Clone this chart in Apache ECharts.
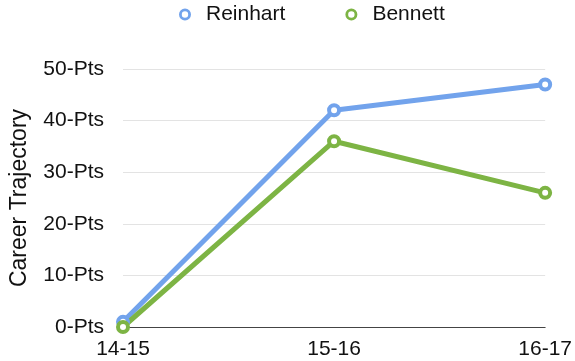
<!DOCTYPE html>
<html><head><meta charset="utf-8">
<script src="https://cdn.jsdelivr.net/npm/echarts@6/dist/echarts.min.js"></script>
<style>html,body{margin:0;padding:0;background:#fff}#c{width:575px;height:361px}</style>
</head><body><div id="c"></div>
<script>
const categories = ['14-15', '15-16', '16-17'];
const reinhart = [1, 42, 47];
const bennett = [0, 36, 26];
const yTicks = [0, 10, 20, 30, 40, 50];

const chart = echarts.init(document.getElementById('c'));
const font = 'Liberation Sans, Arial, Helvetica, sans-serif';
const ring = 'path://M0,-6A6,6 0 1,1 0,6A6,6 0 1,1 0,-6Z M0,-3.2A3.2,3.2 0 1,0 0,3.2A3.2,3.2 0 1,0 0,-3.2Z';
chart.setOption({
  animation: false,
  legend: {
    top: -1, left: 174, itemGap: 60, itemWidth: 32, itemHeight: 12,
    textStyle: { fontSize: 21, fontFamily: font, color: '#111' },
    data: [
      { name: 'Reinhart', icon: ring, itemStyle: { color: '#72a3ec', borderWidth: 0 } },
      { name: 'Bennett', icon: ring, itemStyle: { color: '#7db444', borderWidth: 0 } }
    ]
  },
  grid: { left: 122, right: 28, top: 69, bottom: 34, containLabel: false },
  xAxis: {
    type: 'category', data: categories, boundaryGap: false,
    axisLine: { lineStyle: { color: '#444', width: 1 } },
    axisTick: { show: false },
    axisLabel: { fontSize: 21, fontFamily: font, color: '#111', margin: 12 }
  },
  yAxis: {
    type: 'value', min: 0, max: 50, interval: 10,
    name: 'Career Trajectory', nameLocation: 'middle', nameGap: 92,
    nameTextStyle: { fontSize: 23, fontFamily: font, color: '#111' },
    axisLabel: { fontSize: 21, fontFamily: font, color: '#111', margin: 19,
      formatter: v => yTicks.includes(v) ? v + '-Pts' : '' },
    splitLine: { lineStyle: { color: '#e3e3e3' } },
    axisLine: { show: false }, axisTick: { show: false }
  },
  series: [
    { name: 'Reinhart', type: 'line', data: reinhart, symbol: 'circle', symbolSize: 10,
      lineStyle: { width: 5, color: '#72a3ec' },
      itemStyle: { color: '#ffffff', borderColor: '#72a3ec', borderWidth: 4 } },
    { name: 'Bennett', type: 'line', data: bennett, symbol: 'circle', symbolSize: 10,
      lineStyle: { width: 5, color: '#7db444' },
      itemStyle: { color: '#ffffff', borderColor: '#7db444', borderWidth: 4 } }
  ]
});
</script></body></html>
